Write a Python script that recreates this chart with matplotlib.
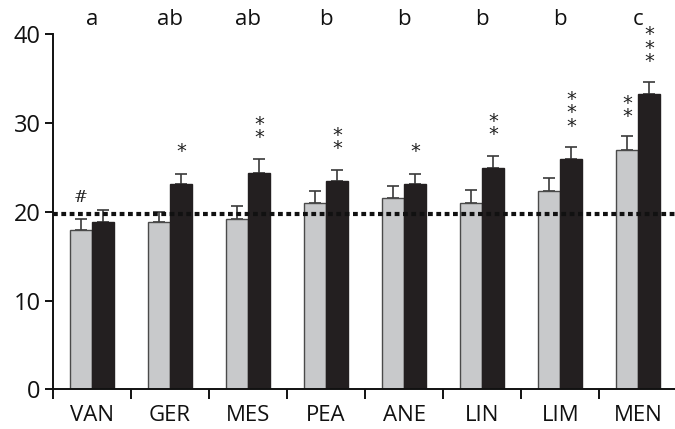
import matplotlib
matplotlib.use("Agg")
import matplotlib.pyplot as plt
import numpy as np

categories = ["VAN", "GER", "MES", "PEA", "ANE", "LIN", "LIM", "MEN"]
gray_vals = [18.0, 18.8, 19.2, 21.0, 21.6, 21.0, 22.4, 27.0]
gray_err = [1.2, 1.15, 1.5, 1.3, 1.3, 1.5, 1.4, 1.5]
black_vals = [18.9, 23.1, 24.35, 23.5, 23.1, 24.9, 26.0, 33.25]
black_err = [1.3, 1.2, 1.55, 1.2, 1.2, 1.4, 1.3, 1.35]
group_letters = ["a", "ab", "ab", "b", "b", "b", "b", "c"]
gray_marks = ["#", "", "", "", "", "", "", "**"]
black_marks = ["", "*", "**", "**", "*", "**", "***", "***"]
reference_level = 19.8
yticks = [0, 10, 20, 30, 40]

plt.rcParams['font.family'] = ['Open Sans', 'DejaVu Sans']

fig = plt.figure(figsize=(6.75, 4.29), dpi=100)
ax = fig.add_axes([0.0785, 0.0925, 0.925, 0.8275])

x = np.arange(len(categories))
w = 0.28
gx = x + 0.5 - w / 2
bx = x + 0.5 + w / 2

ax.bar(gx, gray_vals, width=w, color="#c8c9cb", edgecolor="#4a4a4a", linewidth=1.0, zorder=2)
ax.bar(bx, black_vals, width=w, color="#231f20", edgecolor="#231f20", linewidth=1.0, zorder=2)
ax.errorbar(gx, gray_vals, yerr=[np.zeros(len(x)), gray_err], fmt="none", ecolor="#3a3a3a",
            elinewidth=1.2, capsize=4.5, capthick=1.2, zorder=1)
ax.errorbar(bx, black_vals, yerr=[np.zeros(len(x)), black_err], fmt="none", ecolor="#3a3a3a",
            elinewidth=1.2, capsize=4.5, capthick=1.2, zorder=1)

ax.axhline(reference_level, color="#111111", lw=3.0, linestyle=(0, (1.15, 0.85)),
           dash_capstyle="butt", zorder=3)

STEP = 1.35

def stack(ax, xpos, low, marks):
    if not marks:
        return
    if marks == "#":
        ax.text(xpos, low, "#", ha="center", va="center", fontsize=12, color="#222222",
                family=["DejaVu Serif"], style="italic", zorder=4)
        return
    n = len(marks)
    ax.text(xpos, low + (n - 1) * STEP / 2, "\n".join(marks), ha="center", va="center",
            fontsize=14, linespacing=0.62, color="#222222", family=["DejaVu Sans"], zorder=4)

for i in range(len(x)):
    gt = gray_vals[i] + gray_err[i]
    bt = black_vals[i] + black_err[i]
    if gray_marks[i] == "#":
        stack(ax, gx[i], 21.6, gray_marks[i])
    elif gray_marks[i]:
        stack(ax, gx[i], gt + 2.3, gray_marks[i])
    if black_marks[i]:
        stack(ax, bx[i], bt + 2.5, black_marks[i])
    ax.text(x[i] + 0.5, 41.65, group_letters[i], ha="center", va="center", fontsize=16,
            color="#111111", clip_on=False)

ax.set_xlim(0, 8)
ax.set_ylim(0, 40)
ax.set_yticks(yticks)
ax.set_yticklabels([str(t) for t in yticks], fontsize=17)
ax.set_xticks(np.arange(0, 8))
ax.set_xticklabels([])
for i, c in enumerate(categories):
    ax.text(x[i] + 0.5, -2.9, c, ha="center", va="center", fontsize=16, color="#111111",
            clip_on=False)

for s in ["top", "right"]:
    ax.spines[s].set_visible(False)
for s in ["left", "bottom"]:
    ax.spines[s].set_linewidth(1.4)
    ax.spines[s].set_color("#111111")
ax.spines["bottom"].set_zorder(5)
ax.tick_params(axis="y", length=6, width=1.4, pad=3, colors="#111111")
ax.tick_params(axis="x", length=7, width=1.4, colors="#111111")

fig.savefig("out.png", dpi=100)
